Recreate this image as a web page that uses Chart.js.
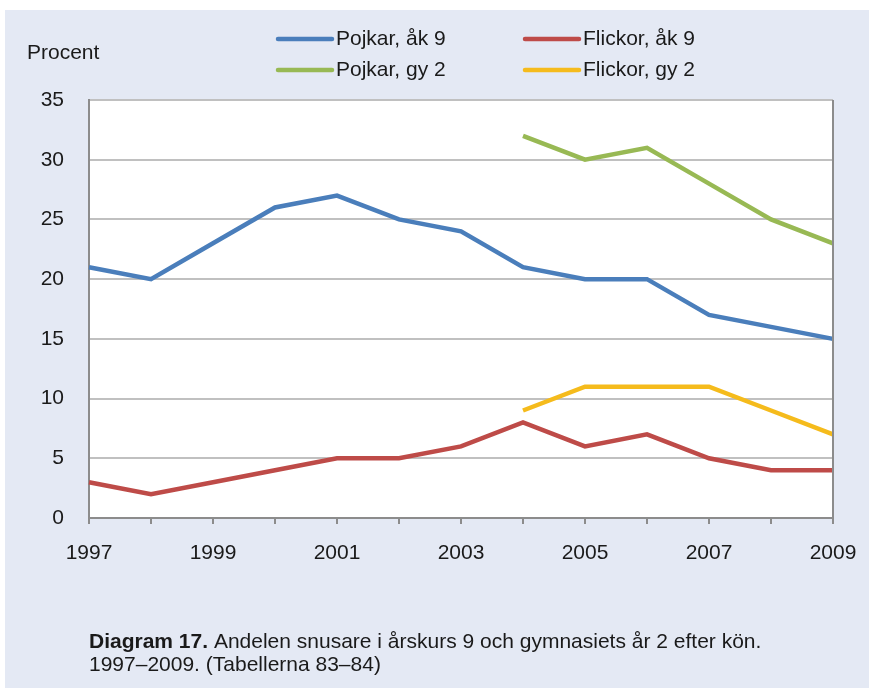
<!DOCTYPE html>
<html>
<head>
<meta charset="utf-8">
<script src="https://cdn.jsdelivr.net/npm/chart.js@4"></script>
<style>
  body { margin: 0; background: #fff; }
  canvas { display: block; }
</style>
</head>
<body>
<canvas id="snusChart" width="869" height="692"></canvas>
<script>
// data
const years = ['1997', '1998', '1999', '2000', '2001', '2002', '2003', '2004', '2005', '2006', '2007', '2008', '2009'];
const pojkarAk9 = [21, 20, 23, 26, 27, 25, 24, 21, 20, 20, 17, 16, 15];
const flickorAk9 = [3, 2, 3, 4, 5, 5, 6, 8, 6, 7, 5, 4, 4];
const pojkarGy2 = [null, null, null, null, null, null, null, 32, 30, 31, 28, 25, 23];
const flickorGy2 = [null, null, null, null, null, null, null, 9, 11, 11, 11, 9, 7];
const yTicks = [0, 5, 10, 15, 20, 25, 30, 35];

const FONT = '"Liberation Sans", Arial, sans-serif';
const TEXT = '#1a1a1a';

// bakgrund, ram, legend och bildtext
const decorPlugin = {
    id: 'decor',
    beforeDraw(chart) {
        const ctx = chart.ctx;
        const a = chart.chartArea;
        ctx.save();
        ctx.fillStyle = '#e4e9f4';
        ctx.fillRect(5, 10, chart.width - 5, chart.height - 14);
        ctx.fillStyle = '#ffffff';
        ctx.fillRect(a.left, a.top, a.right - a.left, a.bottom - a.top);
        ctx.restore();
    },
    afterDraw(chart) {
        const ctx = chart.ctx;
        const a = chart.chartArea;
        ctx.save();
        // höger kant
        ctx.strokeStyle = '#8c8c8c';
        ctx.lineWidth = 2;
        ctx.beginPath();
        ctx.moveTo(a.right, a.top);
        ctx.lineTo(a.right, a.bottom);
        ctx.stroke();

        // Procent
        ctx.fillStyle = TEXT;
        ctx.font = '21px ' + FONT;
        ctx.textBaseline = 'middle';
        ctx.fillText('Procent', 27, 53);

        // legend 2x2
        const pos = [[278, 39], [525, 39], [278, 70], [525, 70]];
        chart.data.datasets.forEach((ds, i) => {
            const [x, y] = pos[i];
            ctx.strokeStyle = ds.borderColor;
            ctx.lineWidth = 4.5;
            ctx.lineCap = 'round';
            ctx.beginPath();
            ctx.moveTo(x, y);
            ctx.lineTo(x + 54, y);
            ctx.stroke();
            ctx.fillStyle = TEXT;
            ctx.font = '21px ' + FONT;
            ctx.fillText(ds.label, x + 58, y);
        });

        // bildtext
        ctx.font = 'bold 21px ' + FONT;
        const bold = 'Diagram 17.';
        ctx.fillText(bold, 89, 642);
        const w = ctx.measureText(bold).width;
        ctx.font = '21px ' + FONT;
        ctx.fillText(' Andelen snusare i årskurs 9 och gymnasiets år 2 efter kön.', 89 + w, 642);
        ctx.fillText('1997–2009. (Tabellerna 83–84)', 89, 665);
        ctx.restore();
    }
};

const lineDs = (label, data, color) => ({
    label: label,
    data: data,
    borderColor: color,
    backgroundColor: color,
    borderWidth: 4.5,
    pointRadius: 0,
    tension: 0,
    fill: false
});

new Chart(document.getElementById('snusChart').getContext('2d'), {
    type: 'line',
    data: {
        labels: years,
        datasets: [
            lineDs('Pojkar, åk 9', pojkarAk9, '#4a7ebb'),
            lineDs('Flickor, åk 9', flickorAk9, '#be4b48'),
            lineDs('Pojkar, gy 2', pojkarGy2, '#98b954'),
            lineDs('Flickor, gy 2', flickorGy2, '#f5bb1c')
        ]
    },
    options: {
        responsive: false,
        animation: false,
        layout: { padding: { left: 0, top: 100, right: 36, bottom: 0 } },
        plugins: {
            legend: { display: false },
            tooltip: { enabled: false }
        },
        scales: {
            x: {
                offset: false,
                afterFit(scale) {
                    scale.height = 174;
                    scale.paddingLeft = 0;
                    scale.paddingRight = 0;
                },
                grid: {
                    drawOnChartArea: false,
                    drawTicks: true,
                    tickLength: 6,
                    color: '#8c8c8c',
                    lineWidth: 2
                },
                border: { color: '#8c8c8c', width: 2 },
                ticks: {
                    autoSkip: false,
                    maxRotation: 0,
                    padding: 17,
                    color: TEXT,
                    font: { family: FONT, size: 21 },
                    callback(value, index) {
                        return index % 2 === 0 ? years[index] : '';
                    }
                }
            },
            y: {
                min: 0,
                max: 35,
                afterFit(scale) {
                    scale.width = 89;
                    scale.paddingTop = 0;
                    scale.paddingBottom = 0;
                },
                afterBuildTicks(scale) {
                    scale.ticks = yTicks.map(v => ({ value: v }));
                },
                grid: {
                    drawTicks: false,
                    color: '#c0c0c0',
                    lineWidth: 2
                },
                border: { color: '#8c8c8c', width: 2 },
                ticks: {
                    padding: 25,
                    color: TEXT,
                    font: { family: FONT, size: 21 }
                }
            }
        }
    },
    plugins: [decorPlugin]
});
</script>
</body>
</html>
